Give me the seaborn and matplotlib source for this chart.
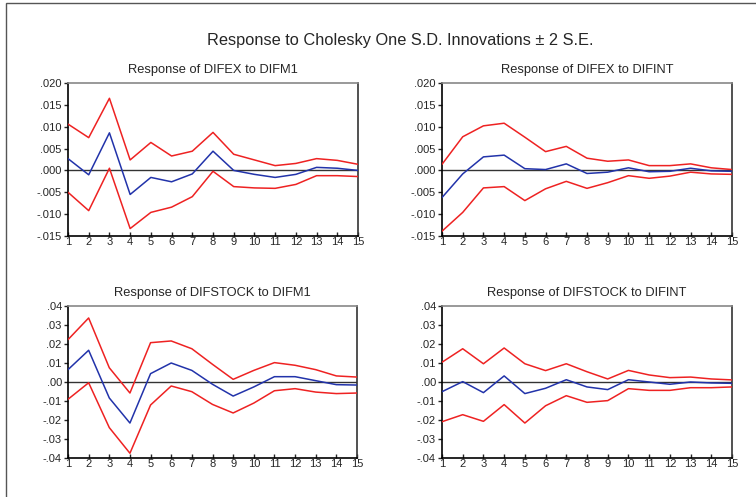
import numpy as np
import pandas as pd
import seaborn as sns
import matplotlib
matplotlib.use("Agg")
import matplotlib.pyplot as plt
from matplotlib.patches import Rectangle

sns.set_style("white")
plt.rcParams['font.family'] = ['Liberation Sans', 'DejaVu Sans']

periods = list(range(1, 16))

# Response of DIFEX to DIFM1
ex_m1_resp = [0.0027, -0.0010, 0.0086, -0.0055, -0.0016, -0.0026, -0.0008, 0.0044, 0.0000, -0.0009, -0.0016, -0.0009, 0.0007, 0.0005, 0.0000]
ex_m1_up = [0.0106, 0.0075, 0.0165, 0.0024, 0.0064, 0.0033, 0.0044, 0.0087, 0.0037, 0.0024, 0.0011, 0.0016, 0.0027, 0.0023, 0.0014]
ex_m1_lo = [-0.0050, -0.0092, 0.0005, -0.0133, -0.0096, -0.0084, -0.0060, -0.0002, -0.0037, -0.0040, -0.0041, -0.0032, -0.0012, -0.0012, -0.0014]

# Response of DIFEX to DIFINT
ex_int_resp = [-0.0062, -0.0008, 0.0031, 0.0035, 0.0004, 0.0002, 0.0015, -0.0007, -0.0004, 0.0006, -0.0003, -0.0002, 0.0005, -0.0001, -0.0002]
ex_int_up = [0.0014, 0.0077, 0.0102, 0.0108, 0.0076, 0.0043, 0.0055, 0.0028, 0.0021, 0.0024, 0.0011, 0.0011, 0.0015, 0.0006, 0.0002]
ex_int_lo = [-0.0139, -0.0096, -0.0040, -0.0037, -0.0069, -0.0042, -0.0025, -0.0041, -0.0028, -0.0012, -0.0018, -0.0013, -0.0004, -0.0008, -0.0009]

# Response of DIFSTOCK to DIFM1
st_m1_resp = [0.0065, 0.0167, -0.0084, -0.0216, 0.0044, 0.0100, 0.0061, -0.0012, -0.0074, -0.0026, 0.0028, 0.0028, 0.0007, -0.0014, -0.0016]
st_m1_up = [0.0223, 0.0337, 0.0075, -0.0058, 0.0207, 0.0216, 0.0175, 0.0093, 0.0014, 0.0061, 0.0102, 0.0088, 0.0065, 0.0032, 0.0026]
st_m1_lo = [-0.0091, -0.0004, -0.0240, -0.0375, -0.0121, -0.0021, -0.0051, -0.0118, -0.0163, -0.0111, -0.0046, -0.0035, -0.0053, -0.0061, -0.0058]

# Response of DIFSTOCK to DIFINT
st_int_resp = [-0.0051, 0.0002, -0.0056, 0.0032, -0.0061, -0.0033, 0.0012, -0.0026, -0.0040, 0.0012, 0.0000, -0.0012, 0.0000, -0.0005, -0.0007]
st_int_up = [0.0104, 0.0175, 0.0096, 0.0179, 0.0096, 0.0060, 0.0096, 0.0054, 0.0016, 0.0061, 0.0037, 0.0023, 0.0026, 0.0016, 0.0011]
st_int_lo = [-0.0209, -0.0172, -0.0207, -0.0119, -0.0216, -0.0125, -0.0072, -0.0107, -0.0098, -0.0035, -0.0044, -0.0044, -0.0030, -0.0030, -0.0026]

titles = ["Response of DIFEX to DIFM1", "Response of DIFEX to DIFINT",
          "Response of DIFSTOCK to DIFM1", "Response of DIFSTOCK to DIFINT"]
ex_ticks = [0.020, 0.015, 0.010, 0.005, 0.000, -0.005, -0.010, -0.015]
ex_labels = [".020", ".015", ".010", ".005", ".000", "-.005", "-.010", "-.015"]
st_ticks = [0.04, 0.03, 0.02, 0.01, 0.00, -0.01, -0.02, -0.03, -0.04]
st_labels = [".04", ".03", ".02", ".01", ".00", "-.01", "-.02", "-.03", "-.04"]

W, H = 756, 497
fig = plt.figure(figsize=(W / 100, H / 100), dpi=100)

# outer frame (cropped at right/bottom)
fig.patches.append(Rectangle((6 / W, -0.1), 1.2, 1.1 - 3 / H, transform=fig.transFigure,
                             fill=False, edgecolor="#555555", linewidth=1.0))

fig.text(400 / W, 1 - 40 / H, "Response to Cholesky One S.D. Innovations \u00b1 2 S.E.",
         ha="center", va="center", fontsize=11.8)

boxes = [(68, 83, 358, 236), (442, 83, 732, 236), (68, 306, 357, 458), (442, 306, 732, 458)]
series = [(ex_m1_resp, ex_m1_up, ex_m1_lo), (ex_int_resp, ex_int_up, ex_int_lo),
          (st_m1_resp, st_m1_up, st_m1_lo), (st_int_resp, st_int_up, st_int_lo)]

for i, (box, (resp, up, lo), title) in enumerate(zip(boxes, series, titles)):
    l, t, r, b = box
    ax = fig.add_axes([l / W, 1 - b / H, (r - l) / W, (b - t) / H])
    df = pd.DataFrame({"period": periods, "resp": resp, "up": up, "lo": lo})
    ax.axhline(0, color="#333333", linewidth=1.0, zorder=1)
    sns.lineplot(data=df, x="period", y="up", ax=ax, color="#ee2222", linewidth=1.1, zorder=3)
    sns.lineplot(data=df, x="period", y="lo", ax=ax, color="#ee2222", linewidth=1.1, zorder=3)
    sns.lineplot(data=df, x="period", y="resp", ax=ax, color="#2233aa", linewidth=1.1, zorder=4)
    ax.set_xlim(1, 15)
    if i < 2:
        ax.set_ylim(-0.015, 0.020)
        ax.set_yticks(ex_ticks)
        ax.set_yticklabels(ex_labels)
    else:
        ax.set_ylim(-0.04, 0.04)
        ax.set_yticks(st_ticks)
        ax.set_yticklabels(st_labels)
    ax.set_xticks(periods)
    ax.set_xticklabels([str(p) for p in periods])
    ax.set_xlabel("")
    ax.set_ylabel("")
    ax.tick_params(axis="y", direction="out", length=3, width=1, pad=1.5, labelsize=8, left=True)
    ax.tick_params(axis="x", direction="in", length=3, width=1, pad=1, labelsize=8, bottom=True)
    ax.spines["left"].set_color("black")
    ax.spines["bottom"].set_color("black")
    ax.spines["top"].set_color("#888888")
    ax.spines["right"].set_color("#333333")
    for s in ax.spines.values():
        s.set_linewidth(1.2)
        s.set_visible(True)
    ax.set_title(title, fontsize=9.3, pad=7)

fig.savefig("out.png", dpi=100)
